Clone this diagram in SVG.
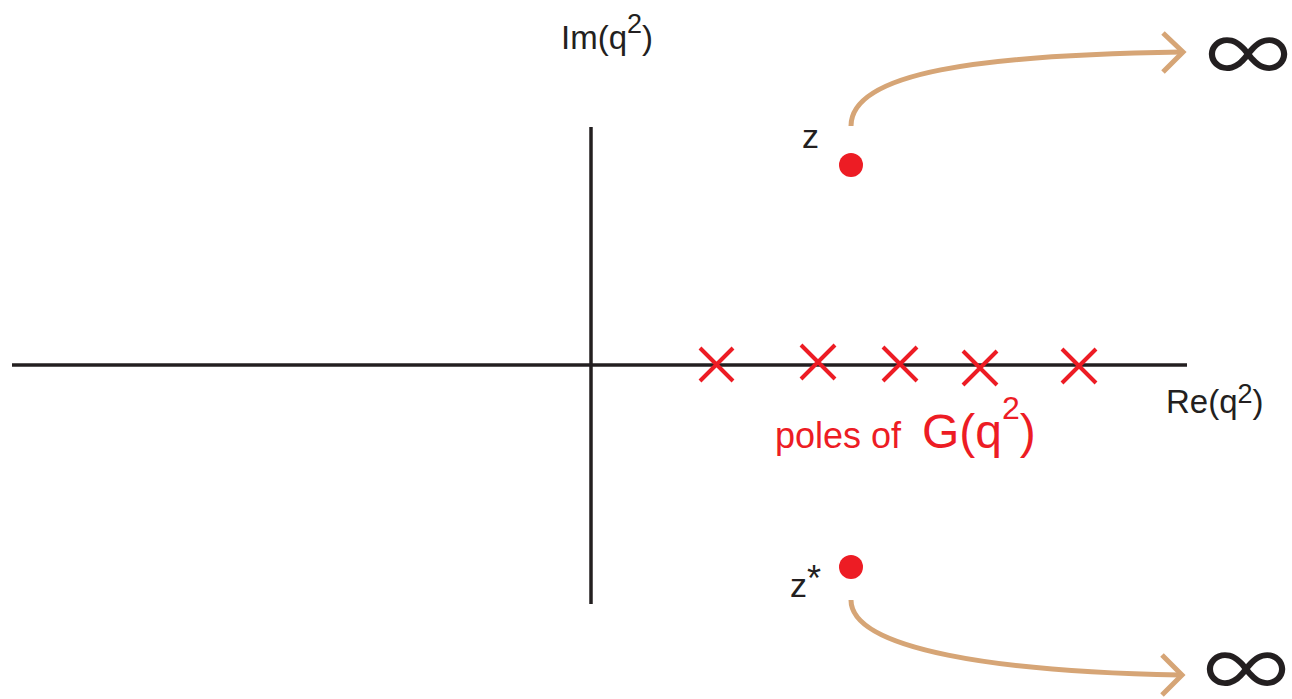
<svg xmlns="http://www.w3.org/2000/svg" width="1292" height="699" viewBox="0 0 1292 699">
<style>
.ax{stroke:#231f20;stroke-width:3.5;fill:none}
.cr{stroke:#ed1c24;stroke-width:4;fill:none}
.dot{fill:#ed1c24}
.arr{stroke:#d6a576;stroke-width:5;fill:none}
.t{font-family:"Liberation Sans",Arial,sans-serif;fill:#231f20}
.r{font-family:"Liberation Sans",Arial,sans-serif;fill:#ed1c24}
.inf{fill:#231f20;font-size:90px;font-family:Inter,"DejaVu Sans",sans-serif;font-weight:300}
</style>
<rect width="1292" height="699" fill="#ffffff"/>
<g id="axes">
<line class="ax" x1="12" y1="365" x2="1187" y2="365"/>
<line class="ax" x1="591" y1="127" x2="591" y2="604"/>
<text class="t" x="561" y="49" font-size="33">Im(q<tspan dy="-16" font-size="27">2</tspan><tspan dy="16">)</tspan></text>
<text class="t" x="1166" y="413" font-size="33">Re(q<tspan dy="-10" font-size="27">2</tspan><tspan dy="10">)</tspan></text>
</g>
<g id="poles">
<path class="cr" d="M700,348 L733,381 M733,348 L700,381"/>
<path class="cr" d="M801,345 L835,379 M835,345 L801,379"/>
<path class="cr" d="M883,347 L917,381 M917,347 L883,381"/>
<path class="cr" d="M963,351 L997,385 M997,351 L963,385"/>
<path class="cr" d="M1062,349 L1096,383 M1096,349 L1062,383"/>
<text class="r" x="775" y="448" font-size="36">poles of <tspan x="922" font-size="48">G(q</tspan><tspan dy="-29" font-size="32">2</tspan><tspan dy="29" font-size="48">)</tspan></text>
</g>
<g id="z">
<circle class="dot" cx="851" cy="165" r="12"/>
<text class="t" x="802" y="148" font-size="34">z</text>
</g>
<g id="zstar">
<circle class="dot" cx="851" cy="567" r="12"/>
<text class="t" x="790" y="597" font-size="34">z<tspan dy="-6" font-size="36">*</tspan></text>
</g>
<g id="inf-top">
<text class="inf" text-anchor="middle" transform="translate(1248,82) scale(1.08,1)">∞</text>
</g>
<g id="inf-bottom">
<text class="inf" text-anchor="middle" transform="translate(1246,697) scale(1.08,1)">∞</text>
</g>
<g id="connectors">
<path class="arr" d="M851,126 C851,72 980,55 1182,52"/>
<path class="arr" d="M1163,33 L1183,52 L1163,72"/>
<path class="arr" d="M851,600 C851,650 1000,672 1180,675"/>
<path class="arr" d="M1162,655 L1182,675 L1162,695"/>
</g>
</svg>
